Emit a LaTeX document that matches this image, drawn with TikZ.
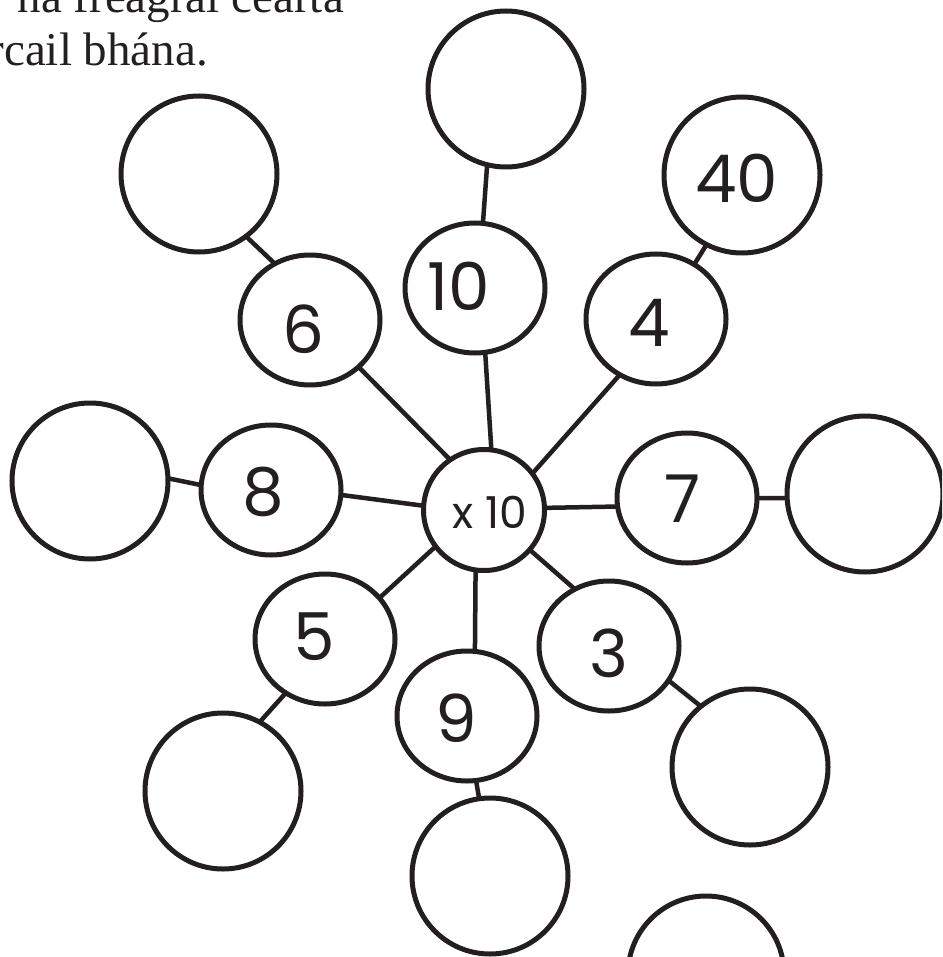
\documentclass[tikz,border=0pt]{standalone}
\usepackage{fontspec}
\setmainfont{Liberation Serif}
\newfontfamily\numfont{Poppins}
\usetikzlibrary{shapes.geometric}
\definecolor{ink}{HTML}{231F20}
\begin{document}
\begin{tikzpicture}[x=1pt,y=-1pt,
  ring/.style={draw=ink, line width=5pt, circle, inner sep=0pt, outer sep=0pt, minimum size=156pt},
  small/.style={draw=ink, line width=5pt, ellipse, inner sep=0pt, outer sep=0pt, minimum width=140pt, minimum height=130pt},
  hub/.style={draw=ink, line width=5pt, circle, inner sep=0pt, outer sep=0pt, minimum size=121pt},
  num/.style={font=\numfont\fontsize{66}{66}\selectfont, text=ink, inner sep=0pt},
  hubtext/.style={font=\numfont\fontsize{44}{44}\selectfont, text=ink, inner sep=0pt},
  link/.style={draw=ink, line width=4.5pt},
  head/.style={font=\fontsize{47}{52}\selectfont, text=ink, inner sep=0pt}]
\useasboundingbox (0,0) rectangle (942,957);
\clip (0,0) rectangle (942,957);
\fill[white] (0,0) rectangle (942,957);

% heading (cut off at the page edge)
\node[head, anchor=base east] (h1) at (344,12.5) {na freagraí cearta};
\node[head, anchor=base east] (h2) at (208,65.5) {rcail bhána.};

% hub
\node[hub] (c) at (484,510) {};
\node[hubtext] (tc) at (490,512) {x 10};

% inner ring
\node[small] (n10) at (475,288) {};
\node[small] (n6) at (310,320) {};
\node[small] (n4) at (656,319) {};
\node[small] (n8) at (271,490) {};
\node[small] (n7) at (687,498) {};
\node[small] (n5) at (325,639) {};
\node[small] (n3) at (609,646) {};
\node[small] (n9) at (467,716) {};

% outer ring
\node[ring] (o10) at (506,89) {};
\node[ring] (o6) at (199,174) {};
\node[ring] (o4) at (742,175) {};
\node[ring] (o8) at (90,481) {};
\node[ring] (o7) at (865,494) {};
\node[ring] (o5) at (223,791) {};
\node[ring] (o3) at (750,767) {};
\node[ring] (o9) at (490,876) {};
\node[ring] (extra) at (706,974) {};

% numbers
\node[num] (t10) at (459,286) {10};
\node[num] (t6) at (303.5,329.5) {6};
\node[num] (t40) at (736.5,178) {40};
\node[num] (t4) at (649,322.5) {4};
\node[num] (t8) at (263,491.5) {8};
\node[num] (t7) at (683,499) {7};
\node[num] (t5) at (314.5,636.5) {5};
\node[num] (t9) at (456,718.5) {9};
\node[num] (t3) at (609,653.5) {3};

% connectors
\draw[link] (o10.-104) -- (n10.83);
\draw[link] (n10.-81) -- (c.83);
\draw[link] (o6.-53) -- (n6.122.5);
\draw[link] (n6.-44) -- (c.124);
\draw[link] (o4.-117) -- (n4.55);
\draw[link] (n4.-123) -- (c.37);
\draw[link] (o8.2.8) -- (n8.176);
\draw[link] (n8.-4) -- (c.176);
\draw[link] (c.2.7) -- (n7.187);
\draw[link] (n7.-0.8) -- (o7.183.4);
\draw[link] (c.217) -- (n5.37.5);
\draw[link] (n5.-126) -- (o5.62.5);
\draw[link] (c.-98) -- (n9.83);
\draw[link] (n9.-82) -- (o9.98.7);
\draw[link] (c.-41.3) -- (n3.121);
\draw[link] (n3.-30.4) -- (o3.129);
\end{tikzpicture}
\end{document}
